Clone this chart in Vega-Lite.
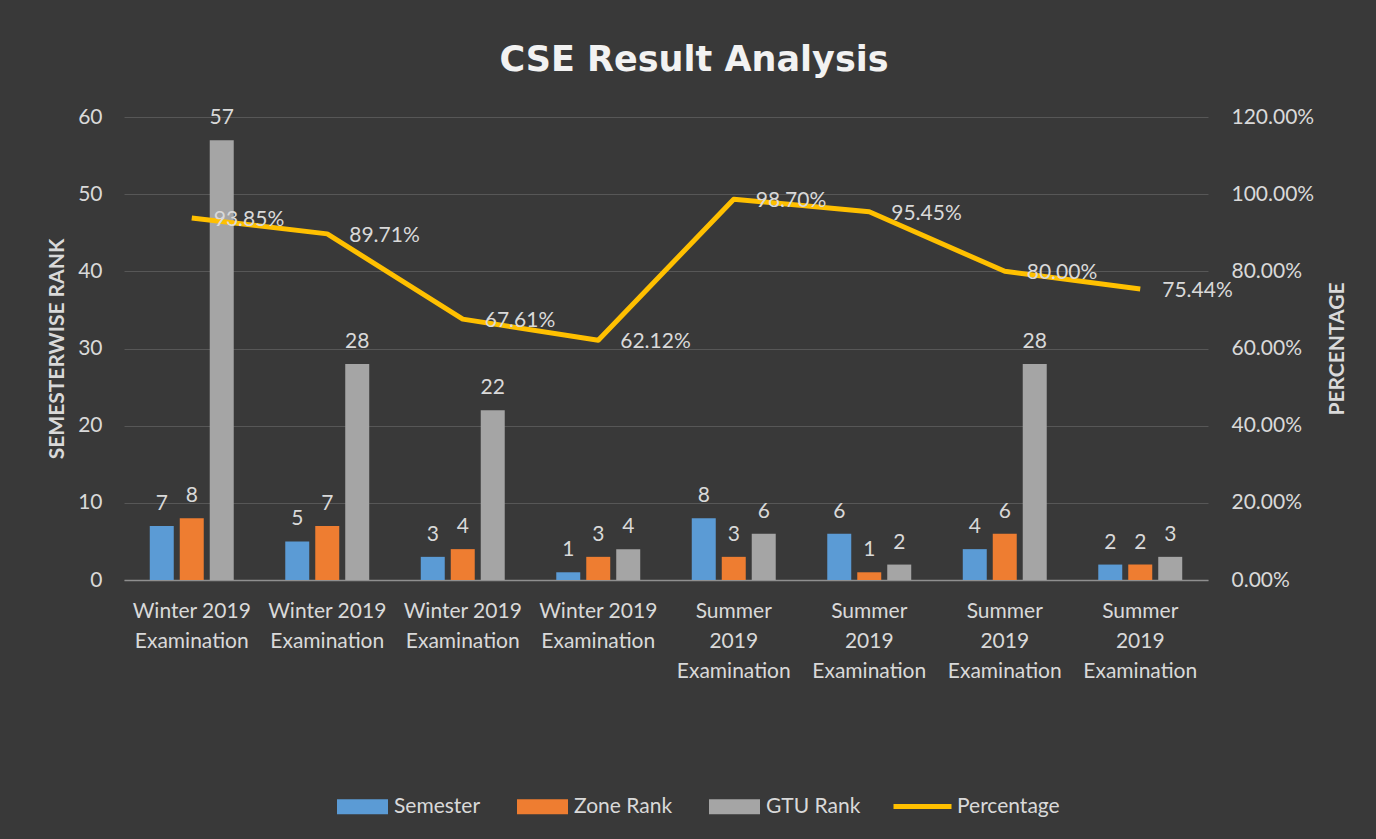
{
  "$schema": "https://vega.github.io/schema/vega-lite/v6.json",
  "width": 1084,
  "height": 463,
  "autosize": {"type": "none"},
  "padding": {"left": 124, "top": 117, "right": 168, "bottom": 259},
  "background": "#393939",
  "config": {
    "font": "Lato",
    "view": {"stroke": null},
    "axis": {"labelFont": "Lato", "labelColor": "#d9d9d9", "labelFontSize": 21, "titleFont": "Lato", "titleColor": "#d9d9d9", "titleFontSize": 21, "titleFontWeight": "bold", "ticks": false, "domain": false, "grid": false, "labelOverlap": false},
    "legend": {"labelFont": "Lato", "labelColor": "#d9d9d9", "labelFontSize": 21}
  },
  "title": {"text": "CSE Result Analysis", "fontSize": 35, "font": "DejaVu Sans", "fontWeight": "bold", "color": "#f2f2f2", "anchor": "middle", "frame": "group", "dx": 28, "offset": 0, "baseline": "alphabetic"},
  "datasets": {
    "bars": [
      {"cat": "1", "series": "Semester", "value": 7},
      {"cat": "1", "series": "Zone Rank", "value": 8},
      {"cat": "1", "series": "GTU Rank", "value": 57},
      {"cat": "2", "series": "Semester", "value": 5},
      {"cat": "2", "series": "Zone Rank", "value": 7},
      {"cat": "2", "series": "GTU Rank", "value": 28},
      {"cat": "3", "series": "Semester", "value": 3},
      {"cat": "3", "series": "Zone Rank", "value": 4},
      {"cat": "3", "series": "GTU Rank", "value": 22},
      {"cat": "4", "series": "Semester", "value": 1},
      {"cat": "4", "series": "Zone Rank", "value": 3},
      {"cat": "4", "series": "GTU Rank", "value": 4},
      {"cat": "5", "series": "Semester", "value": 8},
      {"cat": "5", "series": "Zone Rank", "value": 3},
      {"cat": "5", "series": "GTU Rank", "value": 6},
      {"cat": "6", "series": "Semester", "value": 6},
      {"cat": "6", "series": "Zone Rank", "value": 1},
      {"cat": "6", "series": "GTU Rank", "value": 2},
      {"cat": "7", "series": "Semester", "value": 4},
      {"cat": "7", "series": "Zone Rank", "value": 6},
      {"cat": "7", "series": "GTU Rank", "value": 28},
      {"cat": "8", "series": "Semester", "value": 2},
      {"cat": "8", "series": "Zone Rank", "value": 2},
      {"cat": "8", "series": "GTU Rank", "value": 3}
    ],
    "pct": [
      {"cat": "1", "pct": 0.9385},
      {"cat": "2", "pct": 0.8971},
      {"cat": "3", "pct": 0.6761},
      {"cat": "4", "pct": 0.6212},
      {"cat": "5", "pct": 0.987},
      {"cat": "6", "pct": 0.9545},
      {"cat": "7", "pct": 0.80},
      {"cat": "8", "pct": 0.7544}
    ]
  },
  "encoding": {
    "x": {
      "field": "cat", "type": "nominal", "sort": null,
      "scale": {"paddingInner": 0.336, "paddingOuter": 0.168},
      "axis": {"title": null, "labelAngle": 0, "domain": true, "domainColor": "#8f8f8f", "domainWidth": 1.5, "labelPadding": 20, "labelLineHeight": 30,
        "labelExpr": "toNumber(datum.value) <= 4 ? ['Winter 2019', 'Examination'] : ['Summer', '2019', 'Examination']"}
    }
  },
  "layer": [
    {
      "data": {"name": "bars"},
      "encoding": {
        "xOffset": {"field": "series", "type": "nominal", "sort": ["Semester", "Zone Rank", "GTU Rank"], "scale": {"paddingInner": 0.2, "paddingOuter": 0.1}},
        "y": {"field": "value", "type": "quantitative", "scale": {"domain": [0, 60]},
          "axis": {"title": "SEMESTERWISE RANK", "values": [0, 10, 20, 30, 40, 50, 60], "grid": true, "gridColor": "#575757", "gridWidth": 1, "labelPadding": 22, "titlePadding": 10}}
      },
      "layer": [
        {
          "mark": {"type": "bar"},
          "encoding": {
            "fill": {"field": "series", "type": "nominal", "sort": ["Semester", "Zone Rank", "GTU Rank"],
              "scale": {"domain": ["Semester", "Zone Rank", "GTU Rank"], "range": ["#5b9bd5", "#ee7d31", "#a5a5a5"]},
              "legend": {"orient": "none", "legendX": 213, "legendY": 664, "direction": "horizontal", "title": null,
                "symbolType": "M-1,-0.294H1V0.294H-1Z", "symbolSize": 2601, "symbolStrokeWidth": 0, "labelOffset": 6, "columnPadding": 36}}
          }
        },
        {
          "mark": {"type": "text", "baseline": "alphabetic", "dy": -16, "fontSize": 21, "color": "#d9d9d9"},
          "encoding": {"text": {"field": "value", "type": "quantitative"}}
        }
      ]
    },
    {
      "data": {"name": "pct"},
      "encoding": {
        "y": {"field": "pct", "type": "quantitative", "scale": {"domain": [0, 1.2]},
          "axis": {"orient": "right", "title": "PERCENTAGE", "titleAngle": -90, "format": ".2%", "values": [0, 0.2, 0.4, 0.6, 0.8, 1.0, 1.2], "labelPadding": 23, "titlePadding": 34}}
      },
      "layer": [
        {
          "mark": {"type": "line", "strokeWidth": 5, "strokeJoin": "round"},
          "encoding": {
            "stroke": {"datum": "Percentage", "type": "nominal", "scale": {"range": ["#ffc000"]},
              "legend": {"orient": "none", "legendX": 767, "legendY": 658, "title": null, "symbolType": "stroke", "symbolSize": 3364, "symbolStrokeWidth": 5, "labelOffset": 3}}
          }
        },
        {
          "mark": {"type": "text", "align": "left", "baseline": "middle", "dx": 22, "dy": 2, "fontSize": 21, "color": "#d9d9d9"},
          "encoding": {"text": {"field": "pct", "type": "quantitative", "format": ".2%"}}
        }
      ]
    }
  ],
  "resolve": {"scale": {"y": "independent"}}
}
